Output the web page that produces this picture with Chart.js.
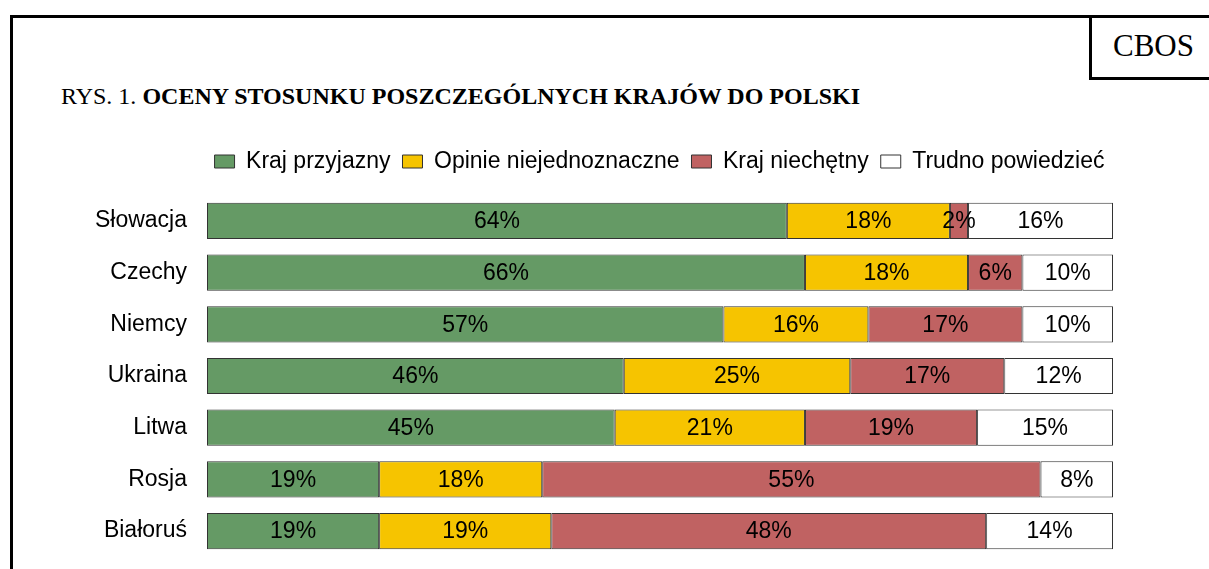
<!DOCTYPE html>
<html>
<head>
<meta charset="utf-8">
<script src="https://cdn.jsdelivr.net/npm/chart.js@4.4.1/dist/chart.umd.min.js"></script>
<style>
  html, body { margin: 0; padding: 0; background: #fff; overflow: hidden; }
  #wrap { position: relative; width: 1209px; height: 569px; }
  #frame { position: absolute; left: 10px; top: 15px; width: 1300px; height: 700px; border: 3px solid #000; }
  #cbos { position: absolute; left: 1089px; top: 15px; width: 200px; height: 62px; border-left: 3px solid #000; border-bottom: 3px solid #000;
          font-family: "Liberation Serif", "Times New Roman", serif; font-size: 31px; line-height: 62px; padding-left: 21px; box-sizing: content-box; }
  #title { position: absolute; left: 61px; top: 83px; font-family: "Liberation Serif", "Times New Roman", serif; font-size: 24px; white-space: nowrap; }
  canvas { position: absolute; left: 0; top: 0; }
</style>
</head>
<body>
<div id="wrap">
  <div id="frame"></div>
  <div id="cbos">CBOS</div>
  <div id="title">RYS. 1. <b>OCENY STOSUNKU POSZCZEGÓLNYCH KRAJÓW DO POLSKI</b></div>
  <canvas id="chart" width="1209" height="569"></canvas>
</div>
<script>
const countries = ['Słowacja', 'Czechy', 'Niemcy', 'Ukraina', 'Litwa', 'Rosja', 'Białoruś'];
const seriesNames = ['Kraj przyjazny', 'Opinie niejednoznaczne', 'Kraj niechętny', 'Trudno powiedzieć'];
const friendly = [64, 66, 57, 46, 45, 19, 19];
const mixed = [18, 18, 16, 25, 21, 18, 19];
const unfriendly = [2, 6, 17, 17, 19, 55, 48];
const hardToSay = [16, 10, 10, 12, 15, 8, 14];
const colors = ['#659a65', '#f6c400', '#c06262', '#ffffff'];

const fontFamily = 'Arial, "Liberation Sans", sans-serif';
const fontSize = 23;
const legendShift = 103; // move legend right, it is not centred on the page
const legendGap = 12;    // extra space under legend

// extra room below the legend + horizontal offset
const legendTweak = {
  id: 'legendTweak',
  beforeLayout(chart) {
    const lg = chart.legend;
    if (lg && !lg._patched) {
      const fit = lg.fit;
      lg.fit = function () { fit.call(this); this.height += legendGap; };
      lg._patched = true;
    }
  },
  afterLayout(chart) {
    chart.legend.left += legendShift;
    chart.legend.right += legendShift;
  }
};

// percent labels in the middle of each segment
const barLabels = {
  id: 'barLabels',
  afterDatasetsDraw(chart) {
    const ctx = chart.ctx;
    ctx.save();
    ctx.font = fontSize + 'px ' + fontFamily;
    ctx.fillStyle = '#000';
    ctx.textAlign = 'center';
    ctx.textBaseline = 'middle';
    chart.data.datasets.forEach((ds, i) => {
      chart.getDatasetMeta(i).data.forEach((el, j) => {
        const p = el.getProps(['x', 'y', 'base'], true);
        ctx.fillText(ds.data[j] + '%', (p.x + p.base) / 2, p.y + 1);
      });
    });
    ctx.restore();
  }
};

const values = [friendly, mixed, unfriendly, hardToSay];

new Chart(document.getElementById('chart'), {
  type: 'bar',
  data: {
    labels: countries,
    datasets: values.map((v, i) => ({
      label: seriesNames[i],
      data: v,
      backgroundColor: colors[i],
      borderColor: '#333',
      borderWidth: 1,
      borderSkipped: false,
      barPercentage: 0.70,
      categoryPercentage: 1
    }))
  },
  options: {
    indexAxis: 'y',
    responsive: false,
    animation: false,
    layout: { padding: { left: 0, right: 96, top: 138, bottom: 12 } },
    plugins: {
      tooltip: { enabled: false },
      legend: {
        position: 'top',
        labels: {
          boxWidth: 20,
          boxHeight: 13,
          padding: 12,
          color: '#000',
          font: { family: fontFamily, size: fontSize }
        }
      }
    },
    scales: {
      x: { stacked: true, min: 0, max: 100, display: false },
      y: {
        stacked: true,
        grid: { display: false },
        border: { display: false },
        ticks: { color: '#000', padding: 12, font: { family: fontFamily, size: fontSize } },
        afterFit(scale) {
          scale.width = 207;
          // labels sit inside the bars' rows, no extra room needed
          scale.paddingTop = 0;
          scale.paddingBottom = 0;
        }
      }
    }
  },
  plugins: [legendTweak, barLabels]
});
</script>
</body>
</html>
